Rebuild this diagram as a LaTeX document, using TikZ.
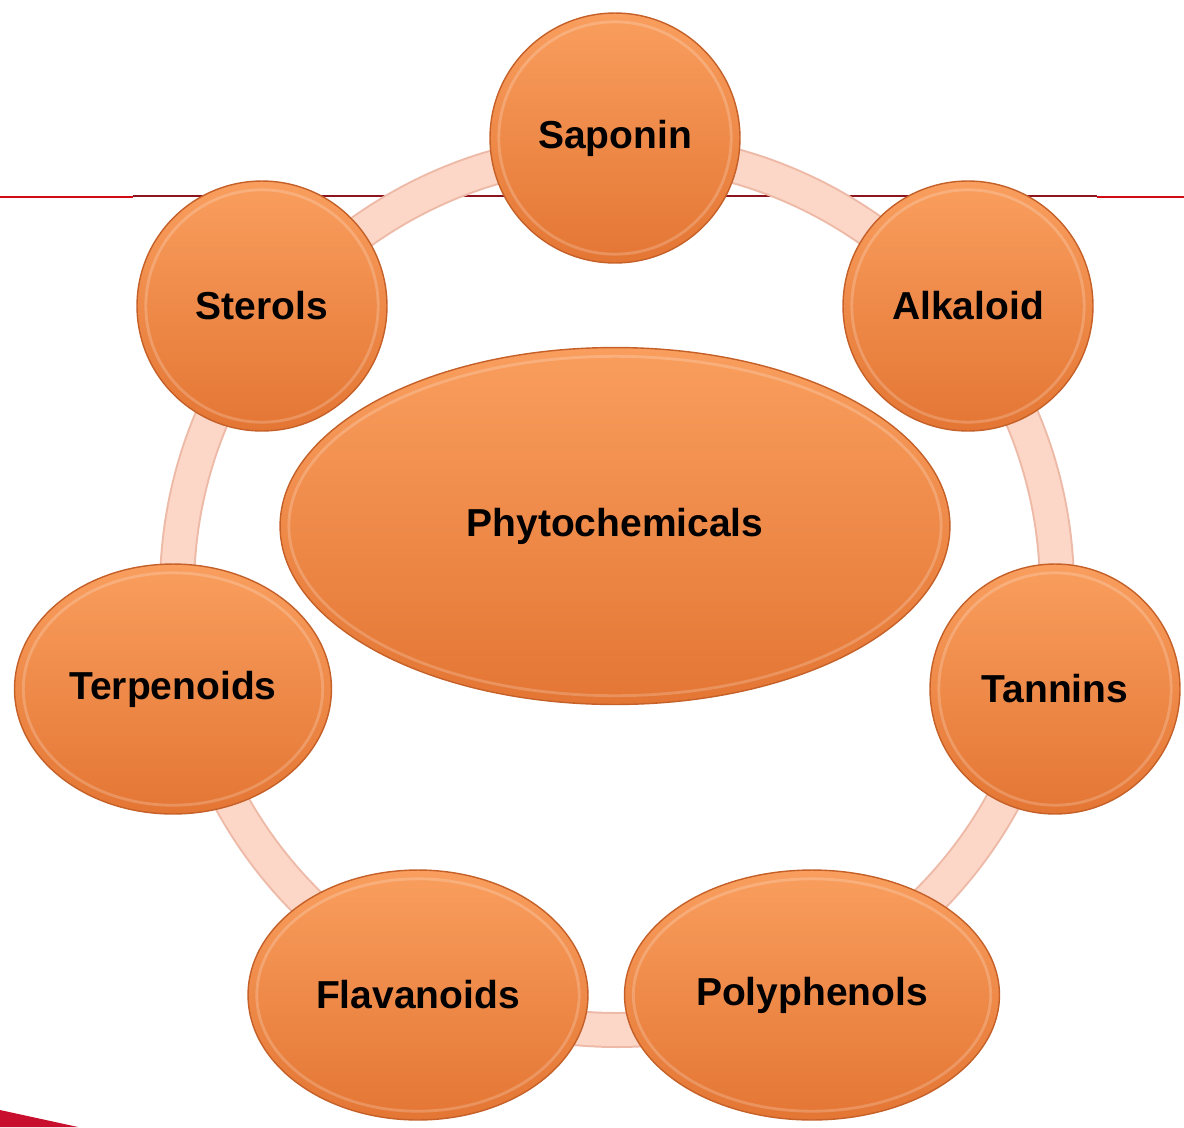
\documentclass[tikz,border=0pt]{standalone}
\usepackage{fontspec}
\setmainfont{Liberation Sans}
\usetikzlibrary{shapes.geometric, calc}
\definecolor{orangetop}{RGB}{249,158,94}
\definecolor{orangebot}{RGB}{228,118,52}
\definecolor{orangeedge}{RGB}{196,96,40}
\definecolor{ringfill}{RGB}{252,214,198}
\definecolor{ringedge}{RGB}{238,186,168}
\definecolor{rulered}{RGB}{210,10,20}
\definecolor{ruledark}{RGB}{140,20,30}
\definecolor{cornerred}{RGB}{200,16,46}

\begin{document}
\begin{tikzpicture}[x=0.02cm, y=-0.02cm,
    bubble/.style={ellipse, draw=orangeedge, line width=0.8pt,
      top color=orangetop, bottom color=orangebot, inner sep=0pt,
      minimum width=#1, minimum height=5cm,
      font=\fontsize{22.2pt}{27pt}\selectfont\bfseries,
      path picture={\draw[white, opacity=0.2, line width=1.6pt]
        let \p1=(path picture bounding box.north east),
            \p2=(path picture bounding box.center) in
        (\p2) ellipse ({\x1-\x2-5pt} and {\y1-\y2-5pt});}},
    bubble/.default=5cm]
  \useasboundingbox (0,0) rectangle (1184,1127);

  % red rule behind the cycle
  \draw[rulered, line width=1.2pt] (0,197) -- (133,197);
  \draw[ruledark, line width=1.2pt] (133,196) -- (1097,196);
  \draw[rulered, line width=1.2pt] (1097,197) -- (1184,197);
  \fill[cornerred] (0,1110) -- (78,1127) -- (0,1127) -- cycle;

  % ring
  \coordinate (hub) at (617,590);
  \draw[ringedge, line width=0.72cm] (hub) circle [radius=440];
  \draw[ringfill, line width=0.64cm] (hub) circle [radius=440];

  % bubbles
  \node[bubble] (saponin) at (615,138) {Saponin};
  \node[bubble] (alkaloid) at (968,306) {Alkaloid};
  \node[bubble] (tannins) at (1055,689) {Tannins};
  \node[bubble=7.5cm] (polyphenols) at (812,995) {Polyphenols};
  \node[bubble=6.8cm] (flavanoids) at (418,995) {Flavanoids};
  \node[bubble=6.34cm] (terpenoids) at (173,689) {Terpenoids};
  \node[bubble] (sterols) at (262,306) {Sterols};
  \node[bubble=13.4cm, minimum height=7.14cm] (phyto) at (615,526) {Phytochemicals};
\end{tikzpicture}
\end{document}
